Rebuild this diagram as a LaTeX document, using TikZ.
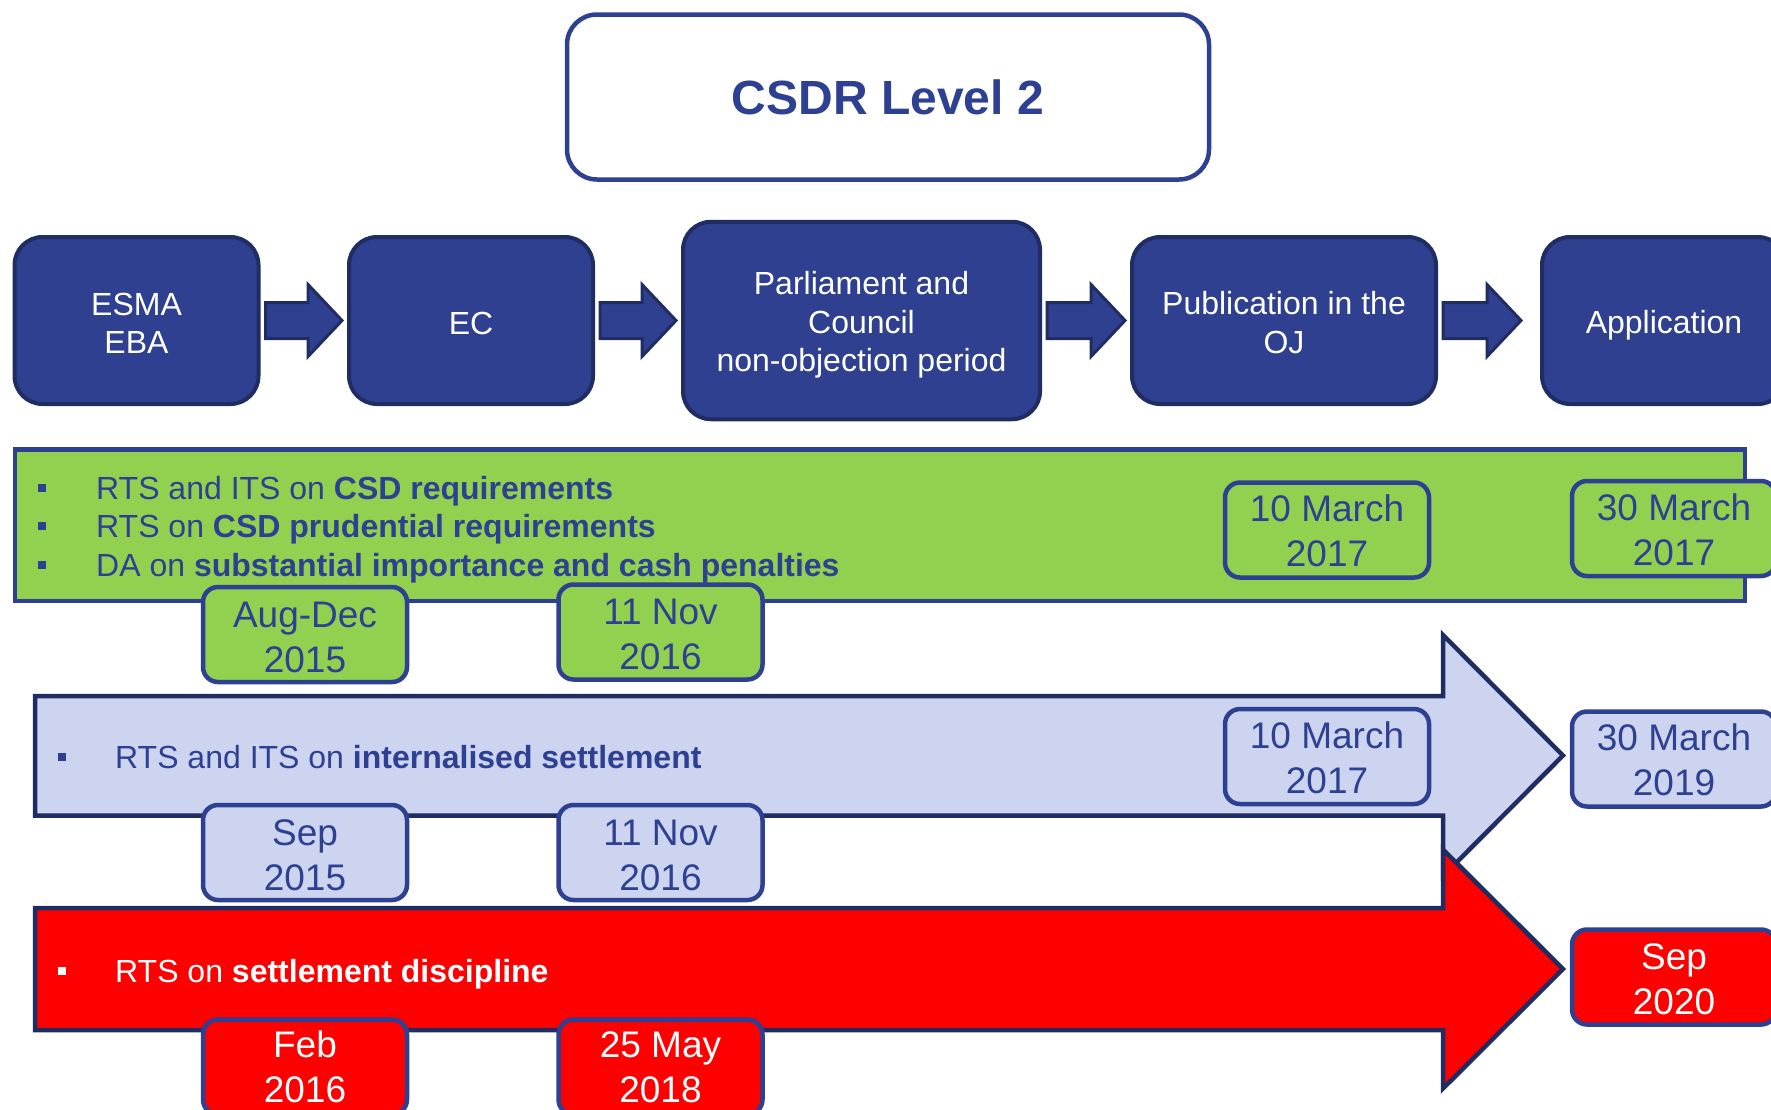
\documentclass[tikz,border=0pt]{standalone}
\usepackage{fontspec}
\setmainfont{Liberation Sans}
\usetikzlibrary{calc}
\definecolor{boxfill}{RGB}{46,64,143}
\definecolor{boxline}{RGB}{31,45,99}
\definecolor{txtblue}{RGB}{46,64,145}
\definecolor{bandgreen}{RGB}{146,208,80}
\definecolor{lav}{RGB}{205,212,239}
\definecolor{redband}{RGB}{255,0,0}
\newcommand\upstrut[1]{\rule{0pt}{#1}}
\begin{document}
\begin{tikzpicture}[x=1pt,y=-1pt,
 stage/.style={draw=boxline, fill=boxfill, line width=4pt, rounded corners=28pt, text=white, align=center, font=\fontsize{32}{38.4}\selectfont, inner sep=0pt},
 barrow/.style={draw=boxline, fill=boxfill, line width=3pt, line join=miter},
 datebox/.style={draw=txtblue, line width=4.5pt, rounded corners=15pt, minimum width=204pt, minimum height=95pt, align=center, font=\fontsize{37}{45}\selectfont, inner sep=0pt},
 itemtext/.style={anchor=base west, inner sep=0pt, font=\fontsize{32}{38}\selectfont},
 bul/.style={minimum size=8.5pt, inner sep=0pt},
 bigarrow/.style={draw=boxline, line width=4.5pt, line join=miter},
]
\path[use as bounding box] (0,0) rectangle (1771,1109);
\clip (0,0) rectangle (1771,1109);

% title
\node[draw=txtblue, fill=white, line width=4.5pt, rounded corners=30pt, minimum width=642pt, minimum height=165pt, inner sep=0pt, text=txtblue, font=\fontsize{48}{56}\selectfont\bfseries] (title) at (888,97) {CSDR Level 2};

% stages
\node[stage, minimum width=244pt, minimum height=167pt] (esma) at (136.5,320.5) {\upstrut{27.5pt}ESMA\\EBA};
\node[stage, minimum width=244pt, minimum height=167pt] (ec) at (471,320.5) {\upstrut{27.5pt}EC};
\node[stage, minimum width=357pt, minimum height=197.5pt] (parl) at (861.5,320.5) {\upstrut{32pt}Parliament and\\Council\\non-objection period};
\node[stage, minimum width=304pt, minimum height=167pt] (pub) at (1284,320.5) {\upstrut{27.5pt}Publication in the\\OJ};
\node[stage, minimum width=244pt, minimum height=167pt] (app) at (1664,320.5) {\upstrut{32pt}Application};

\foreach \a/\b/\g in {esma/ec/5, ec/parl/5, parl/pub/5, pub/app/19}{
  \draw[barrow] ($(\a.east)+(5,-18)$) -- ($(\b.west)+(-34-\g,-18)$) -- ($(\b.west)+(-34-\g,-36)$) -- ($(\b.west)+(-\g,0)$) -- ($(\b.west)+(-34-\g,36)$) -- ($(\b.west)+(-34-\g,18)$) -- ($(\a.east)+(5,18)$) -- cycle;
}

% green band
\node[draw=txtblue, fill=bandgreen, line width=4.5pt, minimum width=1730pt, minimum height=151.5pt, inner sep=0pt] (green) at (880,525) {};
\node[bul, fill=txtblue] (gb1) at (42,488) {};
\node[bul, fill=txtblue] (gb2) at (42,526) {};
\node[bul, fill=txtblue] (gb3) at (42,565) {};
\node[itemtext, text=txtblue] (gt1) at (96,499.5) {RTS and ITS on \textbf{CSD requirements}};
\node[itemtext, text=txtblue] (gt2) at (96,537.5) {RTS on \textbf{CSD prudential requirements}};
\node[itemtext, text=txtblue] (gt3) at (96,576.5) {DA on \textbf{substantial importance and cash penalties}};
\node[datebox, fill=bandgreen, text=txtblue] (gd1) at (305,634.5) {\upstrut{31pt}Aug-Dec\\2015};
\node[datebox, fill=bandgreen, text=txtblue] (gd2) at (660.5,632) {\upstrut{31pt}11 Nov\\2016};
\node[datebox, fill=bandgreen, text=txtblue] (gd3) at (1327,530) {\upstrut{29pt}10 March\\2017};
\node[datebox, fill=bandgreen, text=txtblue] (gd4) at (1674,528.5) {\upstrut{29pt}30 March\\2017};

% lavender arrow
\draw[bigarrow, fill=lav] (35,696) -- (1443,696) -- (1443,635) -- (1563,755.5) -- (1443,876) -- (1443,815.5) -- (35,815.5) -- cycle;
\node[bul, fill=txtblue] (lb1) at (62,757) {};
\node[itemtext, text=txtblue] (lt1) at (115,768.5) {RTS and ITS on \textbf{internalised settlement}};
\node[datebox, fill=lav, text=txtblue] (ld1) at (305,852.5) {\upstrut{31pt}Sep\\2015};
\node[datebox, fill=lav, text=txtblue] (ld2) at (660.5,852.5) {\upstrut{31pt}11 Nov\\2016};
\node[datebox, fill=lav, text=txtblue] (ld3) at (1327,756.5) {\upstrut{29pt}10 March\\2017};
\node[datebox, fill=lav, text=txtblue] (ld4) at (1674,759) {\upstrut{29pt}30 March\\2019};

% red arrow
\draw[bigarrow, fill=redband] (35,908) -- (1443,908) -- (1443,849.5) -- (1563,969) -- (1443,1088.5) -- (1443,1030) -- (35,1030) -- cycle;
\node[bul, fill=white] (rb1) at (62,971) {};
\node[itemtext, text=white] (rt1) at (115,982.5) {RTS on \textbf{settlement discipline}};
\node[datebox, fill=redband, text=white] (rd1) at (305,1067) {Feb\\2016};
\node[datebox, fill=redband, text=white] (rd2) at (660.5,1067) {25 May\\2018};
\node[datebox, fill=redband, text=white] (rd4) at (1674,977) {\upstrut{31pt}Sep\\2020};
\end{tikzpicture}
\end{document}
